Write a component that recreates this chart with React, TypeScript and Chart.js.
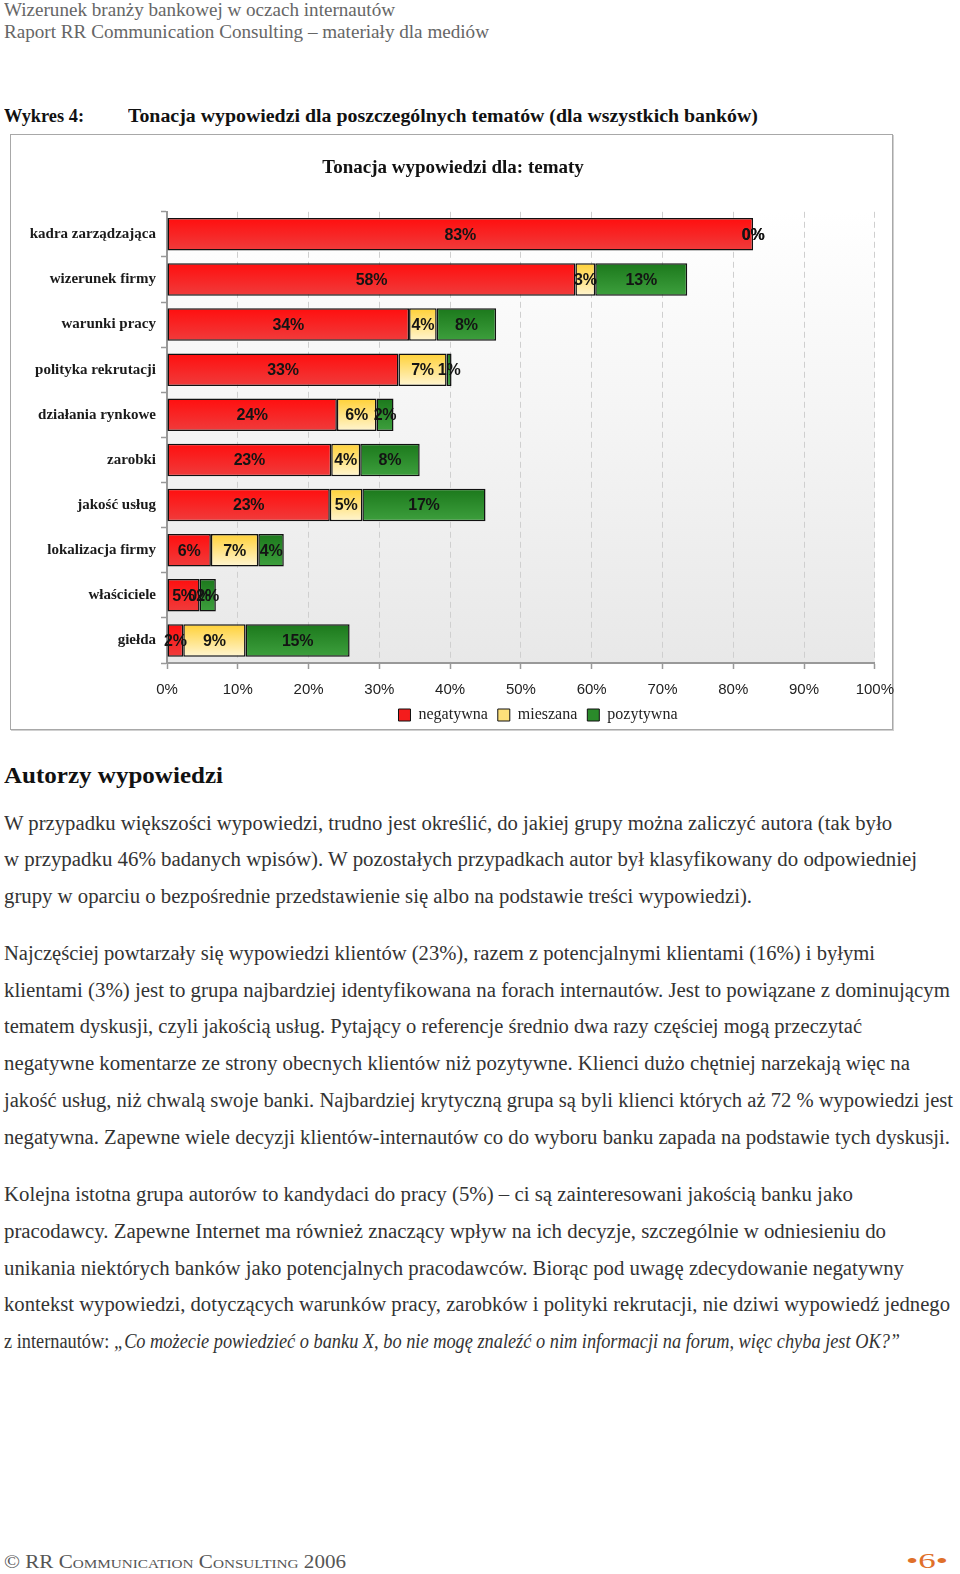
import React, { useEffect, useLayoutEffect, useRef } from "react";
import { Chart, registerables } from "chart.js";

Chart.register(...registerables);

// ---- chart data ----
const categories = [
  "kadra zarządzająca",
  "wizerunek firmy",
  "warunki pracy",
  "polityka rekrutacji",
  "działania rynkowe",
  "zarobki",
  "jakość usług",
  "lokalizacja firmy",
  "właściciele",
  "giełda",
];
const seriesNames = ["negatywna", "mieszana", "pozytywna"];
const negatywna = [82.8, 57.7, 34.2, 32.7, 24.0, 23.2, 23.0, 6.2, 4.6, 2.3];
const mieszana = [0, 2.8, 3.9, 6.8, 5.6, 4.1, 4.6, 6.7, 0, 8.8];
const pozytywna = [0, 13.0, 8.4, 0.7, 2.4, 8.4, 17.4, 3.6, 2.3, 14.7];
const xTicks = [0, 10, 20, 30, 40, 50, 60, 70, 80, 90, 100];
const chartTitle = "Tonacja wypowiedzi dla: tematy";

const solidColors = ["#f41c1c", "#fde07a", "#2a8a2a"];
const gradStops = [
  ["#ff1010", "#f03a3a"],
  ["#ffd23c", "#fff4cc"],
  ["#1d7a1d", "#3c9e3c"],
];

const SERIF = "'Liberation Serif', 'Times New Roman', serif";
const SANS = "'Liberation Sans', Arial, sans-serif";

function FitLine(props: {
  x: number;
  y: number;
  w?: number;
  size: number;
  color?: string;
  weight?: string | number;
  variant?: string;
  children: React.ReactNode;
}) {
  const ref = useRef<HTMLSpanElement>(null);
  useLayoutEffect(() => {
    const el = ref.current;
    if (!el || !props.w) return;
    el.style.transform = "none";
    const nat = el.getBoundingClientRect().width;
    if (nat > 0) el.style.transform = `scaleX(${props.w / nat})`;
  }, [props.w]);
  return (
    <span
      ref={ref}
      style={{
        position: "absolute",
        left: props.x,
        top: props.y - props.size * 0.62,
        whiteSpace: "nowrap",
        fontFamily: SERIF,
        fontSize: props.size,
        lineHeight: `${Math.round(props.size * 1.2)}px`,
        color: props.color || "#333",
        fontWeight: props.weight || "normal",
        fontVariant: props.variant || "normal",
        transformOrigin: "0 50%",
        display: "inline-block",
      }}
    >
      {props.children}
    </span>
  );
}

const bgPlugin = {
  id: "plotBg",
  beforeDraw(chart: any) {
    const { ctx, chartArea } = chart;
    if (!chartArea) return;
    const g = ctx.createLinearGradient(0, chartArea.top, 0, chartArea.bottom);
    g.addColorStop(0, "#ffffff");
    g.addColorStop(1, "#e8e8e8");
    ctx.save();
    ctx.fillStyle = g;
    ctx.fillRect(chartArea.left, chartArea.top, chartArea.right - chartArea.left, chartArea.bottom - chartArea.top);
    ctx.restore();
  },
};

// shift the legend horizontally (the original legend is not centred on the canvas)
const legendShift = {
  id: "legendShift",
  afterLayout(chart: any) {
    const lg = chart.legend;
    if (!lg) return;
    lg.left += 85;
    lg.right += 85;
  },
};

const labelPlugin = {
  id: "segLabels",
  afterDatasetsDraw(chart: any) {
    const { ctx } = chart;
    ctx.save();
    ctx.font = `bold 16px ${SANS}`;
    try {
      (ctx as any).letterSpacing = "-0.2px";
    } catch (e) {}
    ctx.fillStyle = "#141414";
    ctx.textAlign = "center";
    ctx.textBaseline = "middle";
    chart.data.datasets.forEach((ds: any, di: number) => {
      const meta = chart.getDatasetMeta(di);
      meta.data.forEach((el: any, i: number) => {
        const v = ds.data[i];
        const cx = (el.x + el.base) / 2;
        ctx.fillText(Math.round(v) + "%", cx, el.y + 1);
      });
    });
    try {
      (ctx as any).letterSpacing = "0px";
    } catch (e) {}
    ctx.restore();
  },
};

function makeBg(si: number) {
  return (c: any) => {
    const chart = c.chart;
    const ys = chart.scales && chart.scales.y;
    if (c.type !== "data" || !ys || !chart.chartArea) return solidColors[si];
    const cy = ys.getPixelForValue(c.dataIndex);
    const half = 15;
    const g = chart.ctx.createLinearGradient(0, cy - half, 0, cy + half);
    g.addColorStop(0, gradStops[si][0]);
    g.addColorStop(1, gradStops[si][1]);
    return g;
  };
}

function BarChart() {
  const ref = useRef<HTMLCanvasElement>(null);
  useEffect(() => {
    if (!ref.current) return;
    const values = [negatywna, mieszana, pozytywna];
    const chart = new Chart(ref.current, {
      type: "bar",
      data: {
        labels: categories,
        datasets: seriesNames.map((name, si) => ({
          label: name,
          data: values[si],
          backgroundColor: makeBg(si),
          borderColor: "#111111",
          borderWidth: 1.5,
          borderSkipped: false,
        })),
      },
      options: {
        indexAxis: "y",
        animation: false,
        responsive: true,
        maintainAspectRatio: false,
        layout: { padding: { left: 0, right: 0, top: 0, bottom: 0 } },
        scales: {
          x: {
            stacked: true,
            min: 0,
            max: 100,
            afterBuildTicks: (s: any) => {
              s.ticks = xTicks.map((v) => ({ value: v }));
            },
            afterFit: (s: any) => {
              s.height = 34;
            },
            ticks: {
              callback: (v: any) => v + "%",
              font: { family: SANS, size: 15, lineHeight: 2.8 },
              color: "#222",
              padding: 0,
              maxRotation: 0,
            },
            grid: {
              color: "#cfcfcf",
              lineWidth: 1,
              drawTicks: true,
              tickLength: 6,
              tickColor: "#999",
              tickBorderDash: [],
              tickWidth: 1.5,
            },
            border: { display: true, color: "#999", width: 2, dash: [6, 4] },
          },
          y: {
            stacked: true,
            afterFit: (s: any) => {
              s.width = 155;
            },
            ticks: {
              font: { family: SERIF, size: 15, weight: "bold" },
              color: "#1a1a1a",
              padding: 5,
            },
            grid: {
              drawOnChartArea: false,
              drawTicks: true,
              tickLength: 6,
              tickColor: "#999",
              tickWidth: 1.5,
            },
            border: { display: true, color: "#999", width: 2 },
          },
        },
        plugins: {
          title: {
            display: true,
            text: chartTitle,
            font: { family: SERIF, size: 19, weight: "bold" },
            color: "#111",
            padding: { top: 22, bottom: 32 },
          },
          legend: {
            position: "bottom",
            maxHeight: 28,
            labels: {
              boxWidth: 12,
              boxHeight: 12,
              padding: 10,
              font: { family: SERIF, size: 16 },
              color: "#222",
              generateLabels: (ch: any) =>
                ch.data.datasets.map((ds: any, i: number) => ({
                  text: ds.label,
                  fillStyle: solidColors[i],
                  strokeStyle: "#111",
                  lineWidth: 1,
                  hidden: false,
                  datasetIndex: i,
                  fontColor: "#222",
                })),
            },
          },
          tooltip: { enabled: false },
        },
      },
      plugins: [bgPlugin, labelPlugin, legendShift],
    } as any);
    return () => chart.destroy();
  }, []);
  return <canvas ref={ref} />;
}

const p1 = [
  "W przypadku większości wypowiedzi, trudno jest określić, do jakiej grupy można zaliczyć autora (tak było",
  "w przypadku 46% badanych wpisów). W pozostałych przypadkach autor był klasyfikowany do odpowiedniej",
  "grupy w oparciu o bezpośrednie przedstawienie się albo na podstawie treści wypowiedzi).",
];
const p1w = [892, 917, 752];
const p1y = [823, 859.5, 896.5];

const p2 = [
  "Najczęściej powtarzały się wypowiedzi klientów (23%), razem z potencjalnymi klientami (16%) i byłymi",
  "klientami (3%) jest to grupa najbardziej identyfikowana na forach internautów. Jest to powiązane z dominującym",
  "tematem dyskusji, czyli jakością usług. Pytający o referencje średnio dwa razy częściej mogą przeczytać",
  "negatywne komentarze ze strony obecnych klientów niż pozytywne. Klienci dużo chętniej narzekają więc na",
  "jakość usług, niż chwalą swoje banki. Najbardziej krytyczną grupa są byli klienci których aż 72 % wypowiedzi jest",
  "negatywna. Zapewne wiele decyzji klientów-internautów co do wyboru banku zapada na podstawie tych dyskusji.",
];
const p2w = [875, 950, 862, 910, 953, 950];
const p2y = [953, 990, 1026, 1063, 1100, 1137];

const p3 = [
  "Kolejna istotna grupa autorów to kandydaci do pracy (5%) – ci są zainteresowani jakością banku jako",
  "pracodawcy. Zapewne Internet ma również znaczący wpływ na ich decyzje, szczególnie w odniesieniu do",
  "unikania niektórych banków jako potencjalnych pracodawców. Biorąc pod uwagę zdecydowanie negatywny",
  "kontekst wypowiedzi, dotyczących warunków pracy, zarobków i polityki rekrutacji, nie dziwi wypowiedź jednego",
];
const p3w = [853, 886, 904, 950];
const p3y = [1194, 1231, 1268, 1304];
const p3last = "z internautów: ";
const p3quote = "„Co możecie powiedzieć o banku X, bo nie mogę znaleźć o nim informacji na forum, więc chyba jest OK?”";

export default function App() {
  useEffect(() => {
    document.body.style.margin = "0";
  }, []);
  return (
    <div style={{ position: "relative", width: 960, height: 1574, background: "#fff", overflow: "hidden" }}>
      <FitLine x={4} y={10} w={391} size={18} color="#666">
        Wizerunek branży bankowej w oczach internautów
      </FitLine>
      <FitLine x={4} y={32} w={485} size={18} color="#666">
        Raport RR Communication Consulting – materiały dla mediów
      </FitLine>
      <FitLine x={4} y={116.5} w={80} size={18} color="#111" weight="bold">
        Wykres 4:
      </FitLine>
      <FitLine x={127.5} y={116.5} w={630} size={18} color="#111" weight="bold">
        Tonacja wypowiedzi dla poszczególnych tematów (dla wszystkich banków)
      </FitLine>

      <div
        style={{
          position: "absolute",
          left: 10,
          top: 134,
          width: 881,
          height: 594,
          border: "1px solid #a8a8a8",
          boxShadow: "1px 1px 0 #d0d0d0",
          background: "#fff",
        }}
      />
      <div style={{ position: "absolute", left: 12, top: 135, width: 882, height: 590 }}>
        <BarChart />
      </div>

      <FitLine x={4} y={776} w={219} size={23} color="#111" weight="bold">
        Autorzy wypowiedzi
      </FitLine>

      {p1.map((t, i) => (
        <FitLine key={"a" + i} x={4} y={p1y[i]} w={p1w[i] - 4} size={20}>
          {t}
        </FitLine>
      ))}
      {p2.map((t, i) => (
        <FitLine key={"b" + i} x={4} y={p2y[i]} w={p2w[i] - 4} size={20}>
          {t}
        </FitLine>
      ))}
      {p3.map((t, i) => (
        <FitLine key={"c" + i} x={4} y={p3y[i]} w={p3w[i] - 4} size={20}>
          {t}
        </FitLine>
      ))}
      <FitLine x={4} y={1341} w={896} size={20}>
        {p3last}
        <i>{p3quote}</i>
      </FitLine>

      <FitLine x={4} y={1562} w={342} size={18} color="#555" variant="small-caps">
        © RR Communication Consulting 2006
      </FitLine>
      <FitLine x={906} y={1562} w={42} size={22} color="#e0702a">
        •6•
      </FitLine>
    </div>
  );
}
